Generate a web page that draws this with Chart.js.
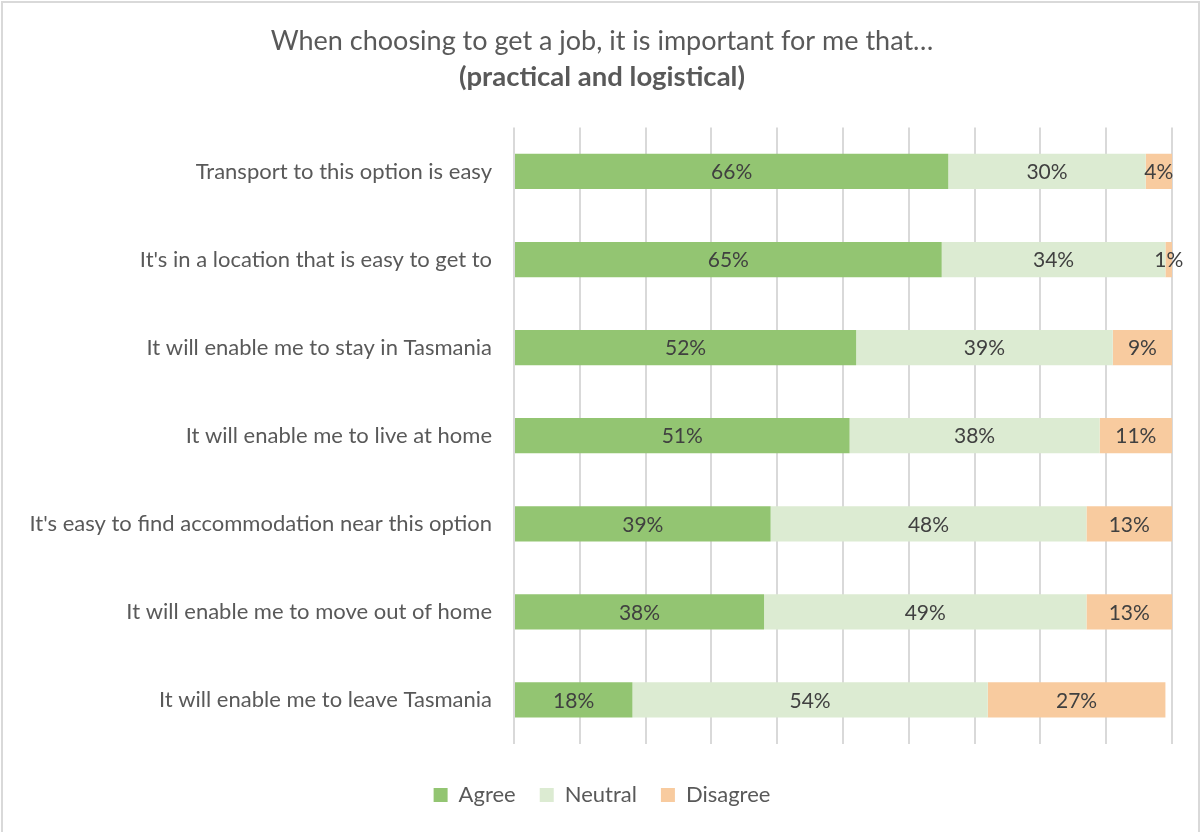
<!DOCTYPE html>
<html>
<head>
<meta charset="utf-8">
<title>Practical and logistical</title>
<script src="https://cdn.jsdelivr.net/npm/chart.js@4.4.1/dist/chart.umd.min.js"></script>
<style>
    html, body { margin: 0; padding: 0; background: #fff; }
    .frame {
        position: absolute; left: 1px; top: 1px;
        width: 1199px; height: 840px;
        border: 2px solid #d9d9d9; box-sizing: border-box;
    }
    #chartWrap { position: absolute; left: 0; top: 0; width: 1203px; height: 832px; }
</style>
</head>
<body>
<div class="frame"></div>
<div id="chartWrap"><canvas id="jobChart"></canvas></div>
<script>
// Survey statements (top to bottom)
const statements = [
    'Transport to this option is easy',
    "It's in a location that is easy to get to",
    'It will enable me to stay in Tasmania',
    'It will enable me to live at home',
    "It's easy to find accommodation near this option",
    'It will enable me to move out of home',
    'It will enable me to leave Tasmania'
];

// Percent of respondents per answer
const agree    = [66, 65, 52, 51, 39, 38, 18];
const neutral  = [30, 34, 39, 38, 48, 49, 54];
const disagree = [4, 1, 9, 11, 13, 13, 27];

const fontFamily = 'Lato, "Open Sans", sans-serif';
const textColor = '#595959';

// Write the percentage in the middle of every bar segment
const segmentLabels = {
    id: 'segmentLabels',
    afterDatasetsDraw(chart) {
        const ctx = chart.ctx;
        ctx.save();
        ctx.font = '21px ' + fontFamily;
        ctx.fillStyle = '#404040';
        ctx.textAlign = 'center';
        ctx.textBaseline = 'middle';
        chart.data.datasets.forEach((ds, i) => {
            chart.getDatasetMeta(i).data.forEach((bar, j) => {
                const v = ds.data[j];
                const cx = (bar.x + bar.base) / 2;
                ctx.fillText(v + '%', cx, bar.y + 1);
            });
        });
        ctx.restore();
    }
};

// Centre title, subtitle and legend on the whole canvas rather than the padded area
const centreBoxes = {
    id: 'centreBoxes',
    afterLayout(chart) {
        [chart.titleBlock, chart.legend].forEach(box => {
            if (box) {
                box.left += 15;
                box.right += 15;
            }
        });
        chart.boxes.forEach(box => {
            if (box !== chart.titleBlock && box.options && box.options.text === '(practical and logistical)') {
                box.left += 15;
                box.right += 15;
            }
        });
    }
};

const ctx = document.getElementById('jobChart');

new Chart(ctx, {
    type: 'bar',
    data: {
        labels: statements,
        datasets: [
            { label: 'Agree', data: agree, backgroundColor: '#93c572' },
            { label: 'Neutral', data: neutral, backgroundColor: '#dcebd2' },
            { label: 'Disagree', data: disagree, backgroundColor: '#f8cb9f' }
        ]
    },
    options: {
        indexAxis: 'y',
        responsive: true,
        maintainAspectRatio: false,
        animation: false,
        layout: {
            padding: { left: 2, right: 31, top: 0, bottom: 16 }
        },
        datasets: {
            bar: {
                categoryPercentage: 0.8,
                barPercentage: 0.5,
                borderWidth: 0
            }
        },
        scales: {
            x: {
                stacked: true,
                min: 0,
                max: 100,
                ticks: { display: false, stepSize: 10 },
                border: { display: false },
                grid: {
                    color: '#d9d9d9',
                    lineWidth: 2,
                    drawTicks: false
                },
                afterFit(scale) { scale.height = 16; }
            },
            y: {
                stacked: true,
                border: { display: false },
                grid: { display: false, drawTicks: false },
                ticks: {
                    padding: 22,
                    color: textColor,
                    font: { family: fontFamily, size: 22 }
                },
                // fixed label column so the bars start at the same place
                afterFit(scale) { scale.width = 512; }
            }
        },
        plugins: {
            title: {
                display: true,
                text: 'When choosing to get a job, it is important for me that…',
                color: textColor,
                font: { family: fontFamily, size: 27, weight: 'normal' },
                padding: { top: 25, bottom: 3 }
            },
            subtitle: {
                display: true,
                text: '(practical and logistical)',
                color: textColor,
                font: { family: fontFamily, size: 27.5, weight: 'bold' },
                padding: { top: 0, bottom: 34 }
            },
            legend: {
                position: 'bottom',
                labels: {
                    color: textColor,
                    boxWidth: 14,
                    boxHeight: 14,
                    padding: 24,
                    font: { family: fontFamily, size: 22 }
                }
            },
            tooltip: { enabled: false }
        }
    },
    plugins: [segmentLabels, centreBoxes]
});
</script>
</body>
</html>
